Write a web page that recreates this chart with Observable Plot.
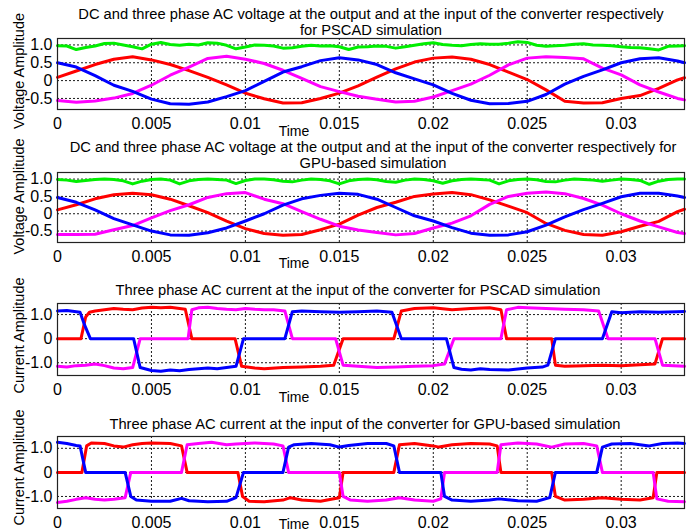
<!DOCTYPE html>
<html><head><meta charset="utf-8">
<script src="https://cdn.jsdelivr.net/npm/d3@7"></script>
<script src="https://cdn.jsdelivr.net/npm/@observablehq/plot@0.6"></script>
<style>
html,body{margin:0;padding:0;background:#fff;}
#chart{position:relative;width:699px;height:531px;overflow:hidden;background:#fff;}
#chart svg{position:absolute;left:0;overflow:visible;}
</style></head><body><div id="chart"></div>
<script>
// ---------- axis values ----------
const xTicks = [0, 0.005, 0.01, 0.015, 0.02, 0.025, 0.03];
const xTickLabels = ["0", "0.005", "0.01", "0.015", "0.02", "0.025", "0.03"];
const xGrid = [0.005, 0.01, 0.015, 0.02, 0.025, 0.03];
const vTicks = [1.0, 0.5, 0, -0.5];
const vTickLabels = ["1.0", "0.5", "0", "-0.5"];
const iTicks = [1.0, 0, -1.0];
const iTickLabels = ["1.0", "0", "-1.0"];

const titles1 = ["DC and three phase AC voltage at the output and at the input of the converter respectively", "for PSCAD simulation"];
const titles2 = ["DC and three phase AC voltage at the output and at the input of the converter respectively for", "GPU-based simulation"];
const titles3 = ["Three phase AC current at the input of the converter for PSCAD simulation"];
const titles4 = ["Three phase AC current at the input of the converter for GPU-based simulation"];

// ---------- time grids (s) ----------
const tV = [0,0.001,0.002,0.003,0.004,0.005,0.006,0.007,0.008,0.009,0.010,0.011,0.012,0.013,0.014,0.015,0.016,0.017,0.018,0.019,0.020,0.021,0.022,0.023,0.024,0.025,0.026,0.027,0.028,0.029,0.030,0.031,0.032,0.033,0.03337];
const tG = [0,0.0005,0.001,0.0015,0.002,0.0025,0.003,0.0035,0.004,0.0045,0.005,0.0055,0.006,0.0065,0.007,0.0075,0.008,0.0085,0.009,0.0095,0.010,0.0105,0.011,0.0115,0.012,0.0125,0.013,0.0135,0.014,0.0145,0.015,0.0155,0.016,0.0165,0.017,0.0175,0.018,0.0185,0.019,0.0195,0.020,0.0205,0.021,0.0215,0.022,0.0225,0.023,0.0235,0.024,0.0245,0.025,0.0255,0.026,0.0265,0.027,0.0275,0.028,0.0285,0.029,0.0295,0.030,0.0305,0.031,0.0315,0.032,0.0325,0.033,0.03337];

// ---------- panel 1: PSCAD voltages ----------
const dc1 = [0.98,0.97,0.87,0.93,0.97,1.04,1.05,1.00,0.95,0.89,1.02,1.07,1.01,0.99,1.02,1.00,1.06,1.05,0.99,0.89,0.94,1.00,0.99,0.97,0.91,0.92,0.96,0.99,0.97,0.98,0.95,0.87,0.94,0.95,0.97,0.96,0.91,0.95,0.99,1.03,1.06,1.01,0.99,0.98,1.01,1.03,1.02,1.02,1.05,1.09,1.07,0.99,0.96,0.98,0.99,1.02,1.03,1.00,0.99,0.98,0.95,0.93,0.92,0.89,0.86,0.96,0.97,0.98];
const red1 = [0.09,0.27,0.45,0.60,0.67,0.58,0.45,0.28,0.09,-0.12,-0.35,-0.51,-0.63,-0.62,-0.50,-0.35,-0.15,0.10,0.33,0.52,0.63,0.66,0.60,0.45,0.24,0.03,-0.26,-0.58,-0.63,-0.62,-0.50,-0.42,-0.22,0.02,0.08];
const blue1 = [0.50,0.38,0.14,-0.13,-0.30,-0.52,-0.65,-0.66,-0.60,-0.45,-0.28,-0.02,0.24,0.39,0.56,0.64,0.58,0.45,0.22,0.05,-0.12,-0.36,-0.55,-0.65,-0.64,-0.58,-0.39,-0.10,0.12,0.30,0.50,0.61,0.64,0.55,0.50];
const mag1 = [-0.56,-0.61,-0.57,-0.49,-0.36,-0.13,0.15,0.38,0.62,0.68,0.60,0.48,0.29,0.06,-0.17,-0.31,-0.44,-0.52,-0.60,-0.58,-0.46,-0.28,-0.10,0.15,0.44,0.63,0.67,0.65,0.61,0.35,0.16,-0.12,-0.32,-0.50,-0.54];

// ---------- panel 2: GPU voltages ----------
const dc2 = [0.99,0.97,0.93,0.96,0.99,1.00,0.99,0.95,0.86,0.94,0.99,1.00,0.97,0.86,0.95,0.99,1.00,0.99,0.97,0.87,0.96,1.00,1.00,0.98,0.94,0.92,0.97,1.00,0.99,0.95,0.86,0.95,0.99,1.00,0.98,0.93,0.91,0.97,1.00,0.99,0.95,0.88,0.95,0.99,1.00,0.99,0.97,0.86,0.95,0.99,1.00,0.98,0.93,0.92,0.97,1.00,0.99,0.97,0.94,0.97,1.00,0.99,0.96,0.85,0.94,0.99,1.00,1.00];
const red2 = [0.11,0.26,0.43,0.55,0.59,0.55,0.42,0.23,0.03,-0.21,-0.43,-0.57,-0.62,-0.60,-0.46,-0.30,-0.04,0.18,0.33,0.50,0.57,0.61,0.55,0.40,0.22,0.03,-0.28,-0.48,-0.60,-0.62,-0.52,-0.36,-0.22,0.06,0.13];
const blue2 = [0.47,0.33,0.11,-0.14,-0.32,-0.50,-0.61,-0.62,-0.55,-0.41,-0.21,0.00,0.25,0.43,0.53,0.59,0.56,0.42,0.18,-0.06,-0.21,-0.40,-0.56,-0.62,-0.61,-0.52,-0.33,-0.09,0.12,0.30,0.49,0.59,0.59,0.51,0.47];
const mag2 = [-0.60,-0.60,-0.59,-0.46,-0.34,-0.12,0.09,0.26,0.47,0.58,0.61,0.42,0.29,0.06,-0.16,-0.36,-0.47,-0.54,-0.61,-0.57,-0.41,-0.27,-0.06,0.27,0.50,0.59,0.63,0.58,0.44,0.25,0.00,-0.21,-0.38,-0.54,-0.57];

// ---------- panel 3: PSCAD currents [time s, value] ----------
const blue3 = [[0,1.15],[0.0005,1.17],[0.001,1.12],[0.0012,1.10],[0.00145,0.55],[0.00175,0],[0.00405,0],[0.0044,-1.2],[0.005,-1.32],[0.0055,-1.35],[0.006,-1.3],[0.0065,-1.33],[0.007,-1.28],[0.0075,-1.25],[0.008,-1.22],[0.0085,-1.25],[0.009,-1.2],[0.0095,-1.15],[0.0099,0],[0.0121,0],[0.0125,1.12],[0.013,1.15],[0.014,1.12],[0.015,1.1],[0.016,1.12],[0.017,1.15],[0.0178,1.1],[0.0183,0],[0.0207,0],[0.0211,-1.2],[0.0215,-1.27],[0.022,-1.3],[0.0225,-1.25],[0.023,-1.28],[0.024,-1.3],[0.025,-1.22],[0.0258,-1.18],[0.0261,-1.1],[0.0265,0],[0.029,0],[0.0295,1.12],[0.03,1.08],[0.031,1.12],[0.032,1.1],[0.033,1.12],[0.03337,1.13]];
const red3 = [[0,0],[0.00125,0],[0.0015,0.9],[0.0017,1.1],[0.002,1.15],[0.0025,1.2],[0.003,1.25],[0.0035,1.22],[0.004,1.2],[0.0045,1.27],[0.005,1.3],[0.0055,1.28],[0.006,1.3],[0.0065,1.25],[0.0068,1.22],[0.00715,0],[0.00945,0],[0.0098,-1.15],[0.0105,-1.22],[0.011,-1.25],[0.012,-1.2],[0.013,-1.18],[0.014,-1.15],[0.0147,-1.1],[0.0152,0],[0.0179,0],[0.0183,1.15],[0.019,1.25],[0.02,1.28],[0.021,1.2],[0.022,1.25],[0.023,1.28],[0.0236,1.2],[0.0239,0],[0.0263,0],[0.0265,-1.1],[0.027,-1.15],[0.028,-1.13],[0.029,-1.1],[0.03,-1.12],[0.031,-1.08],[0.0318,-1.05],[0.0322,0],[0.03337,0]];
const mag3 = [[0,-1.15],[0.0005,-1.18],[0.001,-1.12],[0.0015,-1.1],[0.002,-1.05],[0.0025,-1.12],[0.003,-1.22],[0.0035,-1.25],[0.004,-1.2],[0.0044,0],[0.00695,0],[0.00715,1.2],[0.0075,1.28],[0.008,1.3],[0.0085,1.25],[0.009,1.22],[0.0095,1.2],[0.01,1.25],[0.0105,1.22],[0.011,1.2],[0.0115,1.2],[0.0121,1.15],[0.0125,0],[0.0148,0],[0.0152,-1.1],[0.016,-1.15],[0.017,-1.2],[0.018,-1.18],[0.019,-1.15],[0.02,-1.12],[0.0206,-1.05],[0.0211,0],[0.0236,0],[0.0239,1.2],[0.0245,1.3],[0.025,1.28],[0.026,1.25],[0.027,1.22],[0.028,1.2],[0.0288,1.15],[0.0293,0],[0.0318,0],[0.0322,-1.1],[0.03337,-1.15]];

// ---------- panel 4: GPU currents [time s, value] ----------
const blue4 = [[0,1.25],[0.0005,1.2],[0.001,1.12],[0.0012,1.1],[0.0015,0],[0.0036,0],[0.0039,-1.0],[0.0042,-1.15],[0.005,-1.2],[0.006,-1.2],[0.0066,-1.08],[0.007,-1.18],[0.008,-1.22],[0.009,-1.2],[0.0095,-1.05],[0.0099,0],[0.012,0],[0.0123,1.05],[0.0126,1.15],[0.0135,1.2],[0.0145,1.15],[0.015,1.05],[0.0155,1.12],[0.0165,1.2],[0.0175,1.2],[0.0179,1.1],[0.0182,0],[0.0204,0],[0.0206,-1.0],[0.021,-1.15],[0.022,-1.2],[0.023,-1.15],[0.0235,-1.1],[0.0245,-1.18],[0.0255,-1.2],[0.0262,-1.05],[0.0265,0],[0.0287,0],[0.029,1.05],[0.0295,1.18],[0.0305,1.2],[0.0315,1.1],[0.0322,1.2],[0.033,1.22],[0.03337,1.2]];
const red4 = [[0,0],[0.0013,0],[0.00155,1.1],[0.0018,1.22],[0.0025,1.2],[0.003,1.1],[0.0035,1.05],[0.004,1.15],[0.0045,1.2],[0.005,1.22],[0.006,1.2],[0.0066,1.1],[0.0069,0],[0.0096,0],[0.00985,-1.0],[0.0102,-1.2],[0.011,-1.22],[0.012,-1.15],[0.0124,-1.05],[0.013,-1.15],[0.014,-1.2],[0.015,-1.05],[0.0152,0],[0.0179,0],[0.0182,1.15],[0.019,1.2],[0.02,1.1],[0.0203,1.05],[0.021,1.15],[0.022,1.2],[0.023,1.18],[0.0234,1.1],[0.0236,0],[0.0263,0],[0.0265,-1.0],[0.027,-1.15],[0.028,-1.12],[0.029,-1.05],[0.03,-1.12],[0.031,-1.15],[0.0317,-1.05],[0.0319,0],[0.03337,0]];
const mag4 = [[0,-1.25],[0.0005,-1.2],[0.001,-1.12],[0.0015,-1.05],[0.002,-1.12],[0.0025,-1.15],[0.003,-1.12],[0.0036,-1.05],[0.0039,0],[0.0066,0],[0.0069,1.15],[0.0075,1.2],[0.0082,1.25],[0.009,1.15],[0.0095,1.18],[0.0105,1.22],[0.0115,1.18],[0.012,1.1],[0.0123,0],[0.015,0],[0.0152,-1.0],[0.0156,-1.15],[0.0165,-1.2],[0.0175,-1.15],[0.0182,-1.05],[0.019,-1.15],[0.02,-1.2],[0.0204,-1.1],[0.0206,0],[0.0234,0],[0.0236,1.15],[0.0245,1.22],[0.0255,1.18],[0.0263,1.05],[0.027,1.18],[0.028,1.2],[0.0287,1.1],[0.029,0],[0.0317,0],[0.0319,-1.1],[0.0325,-1.2],[0.03337,-1.22]];

// ---------- helpers ----------
const FONT = '"Liberation Sans", Arial, Helvetica, sans-serif';
const COL = {green: "#00ee00", red: "#ff0000", blue: "#0000ff", magenta: "#ff00ff"};
const fromGrid = (t, v) => t.map((x, i) => ({t: x, v: v[i]}));
const fromPairs = (p) => p.map(([t, v]) => ({t, v}));

function panel(cfg) {
  const marks = [
    Plot.gridX(xGrid, {stroke: "#000", strokeOpacity: 0.9, strokeDasharray: "2,2", strokeWidth: 1}),
    Plot.gridY(cfg.yTicks, {stroke: "#000", strokeOpacity: 0.9, strokeDasharray: "2,2", strokeWidth: 1}),
    ...cfg.series.map(s => Plot.line(s.data, {x: "t", y: "v", stroke: s.color, strokeWidth: 3, strokeLinejoin: "round", strokeLinecap: "round"})),
    Plot.frame({stroke: "#222", strokeWidth: 1.2}),
    Plot.axisX(xTicks, {tickSize: 0, tickPadding: 8, fontSize: 16, label: null,
      tickFormat: d => xTickLabels[xTicks.indexOf(d)]}),
    Plot.axisY(cfg.yTicks, {tickSize: 0, tickPadding: 5, fontSize: 16, label: null,
      tickFormat: d => cfg.yTickLabels[cfg.yTicks.indexOf(d)]}),
    Plot.text(["Time"], {frameAnchor: "bottom", lineAnchor: "middle", textAnchor: "middle", text: d => d, dx: -77, dy: cfg.timeDy, fontSize: 14, fill: "#000"}),
    Plot.text([cfg.yLabel], {frameAnchor: "left", lineAnchor: "middle", textAnchor: "middle", text: d => d, rotate: -90, dx: -38, dy: cfg.yLabelDy, fontSize: 14.5, fill: "#000"}),
    ...cfg.titles.map((tt, i) => Plot.text([tt], {frameAnchor: "top", lineAnchor: "middle", textAnchor: "middle", text: d => d, dx: cfg.titleDx, dy: cfg.titleDy[i], fontSize: 14.7, fill: "#000"}))
  ];
  const svg = Plot.plot({
    width: 699, height: cfg.height,
    marginLeft: 57, marginRight: 15, marginTop: cfg.mt, marginBottom: cfg.mb,
    x: {domain: [0, 0.03337], label: null},
    y: {domain: cfg.yDomain, label: null},
    style: {fontFamily: FONT, fontSize: "16px", color: "#000", background: "transparent", overflow: "visible"},
    marks
  });
  svg.style.top = cfg.top + "px";
  document.getElementById("chart").appendChild(svg);
}

panel({top: 0, height: 140, mt: 38, mb: 31, yDomain: [-0.81, 1.18], yTicks: vTicks, yTickLabels: vTickLabels,
  yLabel: "Voltage Amplitude", yLabelDy: -3, titles: titles1, titleDy: [-24, -8], titleDx: 0, timeDy: 22,
  series: [{data: fromGrid(tG, dc1), color: COL.green}, {data: fromGrid(tV, red1), color: COL.red},
           {data: fromGrid(tV, mag1), color: COL.magenta}, {data: fromGrid(tV, blue1), color: COL.blue}]});

panel({top: 140, height: 135, mt: 32, mb: 33, yDomain: [-0.83, 1.19], yTicks: vTicks, yTickLabels: vTickLabels,
  yLabel: "Voltage Amplitude", yLabelDy: -11, titles: titles2, titleDy: [-25, -9], titleDx: 2, timeDy: 21,
  series: [{data: fromGrid(tG, dc2), color: COL.green}, {data: fromGrid(tV, red2), color: COL.red},
           {data: fromGrid(tV, mag2), color: COL.magenta}, {data: fromGrid(tV, blue2), color: COL.blue}]});

panel({top: 275, height: 130, mt: 28, mb: 30, yDomain: [-1.53, 1.46], yTicks: iTicks, yTickLabels: iTickLabels,
  yLabel: "Current Amplitude", yLabelDy: -4, titles: titles3, titleDy: [-13], titleDx: -13, timeDy: 22,
  series: [{data: fromPairs(red3), color: COL.red}, {data: fromPairs(mag3), color: COL.magenta},
           {data: fromPairs(blue3), color: COL.blue}]});

panel({top: 405, height: 126, mt: 31, mb: 23, yDomain: [-1.5, 1.49], yTicks: iTicks, yTickLabels: iTickLabels,
  yLabel: "Current Amplitude", yLabelDy: -5, titles: titles4, titleDy: [-12], titleDx: -6, timeDy: 16,
  series: [{data: fromPairs(red4), color: COL.red}, {data: fromPairs(mag4), color: COL.magenta},
           {data: fromPairs(blue4), color: COL.blue}]});
</script></body></html>
